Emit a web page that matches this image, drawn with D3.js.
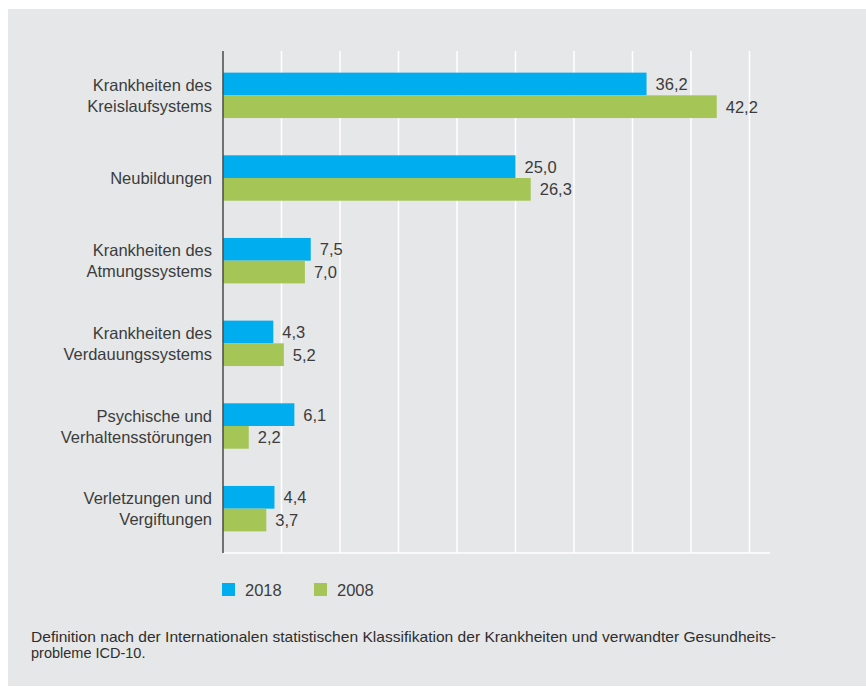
<!DOCTYPE html>
<html>
<head>
<meta charset="utf-8">
<script src="https://cdn.jsdelivr.net/npm/d3@7"></script>
<style>
  html, body { margin: 0; padding: 0; background: #ffffff; }
  svg { display: block; }
  text { font-family: "Liberation Sans", Arial, Helvetica, sans-serif; }
</style>
</head>
<body>
<svg id="chart"></svg>
<script>
// Data
const categories = [
  ['Krankheiten des', 'Kreislaufsystems'],
  ['Neubildungen'],
  ['Krankheiten des', 'Atmungssystems'],
  ['Krankheiten des', 'Verdauungssystems'],
  ['Psychische und', 'Verhaltensstörungen'],
  ['Verletzungen und', 'Vergiftungen']
];
const values2018 = [36.2, 25.0, 7.5, 4.3, 6.1, 4.4];
const values2008 = [42.2, 26.3, 7.0, 5.2, 2.2, 3.7];
const seriesNames = ['2018', '2008'];
const seriesColors = ['#00aeef', '#a5c557'];
const xTicks = [0, 5, 10, 15, 20, 25, 30, 35, 40, 45];
const footnote = [
  'Definition nach der Internationalen statistischen Klassifikation der Krankheiten und verwandter Gesundheits-',
  'probleme ICD-10.'
];

const W = 866, H = 687;
const textColor = '#3c3c3c';
const fmt = v => v.toFixed(1).replace('.', ',');

const svg = d3.select('#chart').attr('width', W).attr('height', H);

// Panel background
svg.append('rect')
  .attr('x', 8).attr('y', 9).attr('width', W - 8).attr('height', H - 10)
  .attr('fill', '#e6e7e8');

const x0 = 223;
const xScale = d3.scaleLinear().domain([0, 45]).range([x0, x0 + 45 * 11.7]);
const plotTop = 51, plotBottom = 553, plotRight = 770;

const yBand = d3.scaleBand().domain(d3.range(categories.length)).range([54, 550]);
const barH = 22.7;

// Grid
svg.append('g')
  .selectAll('line')
  .data(xTicks.slice(1))
  .join('line')
  .attr('x1', d => xScale(d)).attr('x2', d => xScale(d))
  .attr('y1', plotTop).attr('y2', plotBottom)
  .attr('stroke', '#ffffff').attr('stroke-width', 1.5);

svg.append('line')
  .attr('x1', x0).attr('x2', plotRight)
  .attr('y1', plotBottom).attr('y2', plotBottom)
  .attr('stroke', '#ffffff').attr('stroke-width', 1.5);

// Bars
const rows = categories.map((c, i) => ({ i, vals: [values2018[i], values2008[i]] }));

const groups = svg.append('g').selectAll('g')
  .data(rows)
  .join('g')
  .attr('transform', d => `translate(0,${yBand(d.i) + yBand.bandwidth() / 2})`);

groups.selectAll('rect')
  .data(d => d.vals.map((v, k) => ({ v, k })))
  .join('rect')
  .attr('x', x0)
  .attr('y', d => d.k === 0 ? -barH : 0)
  .attr('width', d => xScale(d.v) - x0)
  .attr('height', barH)
  .attr('fill', d => seriesColors[d.k]);

groups.selectAll('text.val')
  .data(d => d.vals.map((v, k) => ({ v, k })))
  .join('text')
  .attr('class', 'val')
  .attr('x', d => xScale(d.v) + 9)
  .attr('y', d => (d.k === 0 ? -barH / 2 : barH / 2) + 6)
  .attr('fill', textColor).attr('font-size', 16.5)
  .text(d => fmt(d.v));

// Category labels
groups.each(function (d) {
  const lines = categories[d.i];
  const t = d3.select(this).append('text')
    .attr('text-anchor', 'end').attr('fill', textColor).attr('font-size', 16.5);
  const lh = 21;
  const start = -(lines.length - 1) * lh / 2 + 6;
  lines.forEach((l, j) => {
    t.append('tspan').attr('x', 212).attr('y', start + j * lh).text(l);
  });
});

// Axis line
svg.append('line')
  .attr('x1', x0).attr('x2', x0)
  .attr('y1', plotTop).attr('y2', plotBottom)
  .attr('stroke', '#4a4a4a').attr('stroke-width', 1.5);

// Legend
const legend = svg.append('g').selectAll('g')
  .data(seriesNames)
  .join('g')
  .attr('transform', (d, i) => `translate(${222 + i * 92},583)`);
legend.append('rect')
  .attr('width', 13).attr('height', 13)
  .attr('fill', (d, i) => seriesColors[i]);
legend.append('text')
  .attr('x', 23).attr('y', 13)
  .attr('fill', textColor).attr('font-size', 16.5)
  .text(d => d);

// Footnote
svg.append('g').selectAll('text')
  .data(footnote)
  .join('text')
  .attr('x', 31).attr('y', (d, i) => 642 + i * 16)
  .attr('fill', '#2e2e2e').attr('font-size', 14.5)
  .attr('textLength', (d, i) => i === 0 ? 745 : null)
  .attr('lengthAdjust', 'spacingAndGlyphs')
  .text(d => d);
</script>
</body>
</html>
